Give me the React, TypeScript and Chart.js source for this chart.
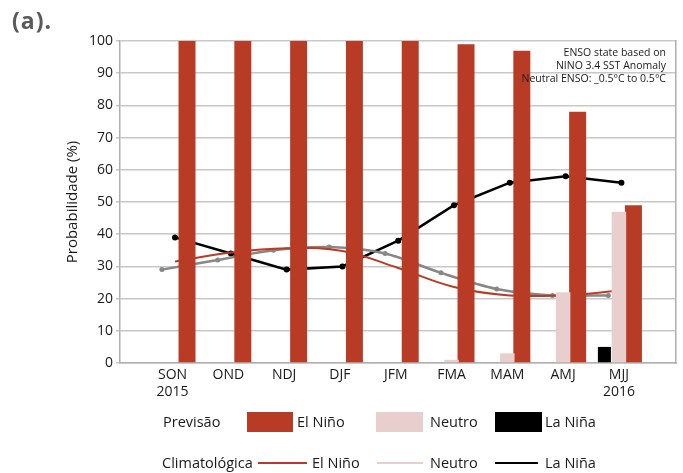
import React, { useEffect, useRef } from "react";
import { Chart, registerables } from "chart.js";

Chart.register(...registerables);

// ---- data ----
const categories = ["SON", "OND", "NDJ", "DJF", "JFM", "FMA", "MAM", "AMJ", "MJJ"];
const tickYears = ["2015", "", "", "", "", "", "", "", "2016"];
const yTickValues = [0, 10, 20, 30, 40, 50, 60, 70, 80, 90, 100];

// Previsão (bars)
const elNinoForecast = [100, 100, 100, 100, 100, 99, 97, 78, 49];
const neutroForecast = [0, 0, 0, 0, 0, 1, 3, 22, 47];
const laNinaForecast = [0, 0, 0, 0, 0, 0, 0, 0, 5];

// Climatológica (lines)
const elNinoClim = [31.5, 34.3, 35.6, 34.8, 29.5, 23.6, 21, 21.1, 22.5];
const neutroClim = [29, 32, 35, 36, 34, 28, 23, 21, 21];
const laNinaClim = [39, 34, 29, 30, 38, 49, 56, 58, 56];

// ---- styles ----
const RED = "#b83c25";
const PINK = "#e8cfce";
const BLACK = "#000000";
const GRAY = "#878787";
const GRID = "#c8c8c8";
const AXIS = "#b0b0b0";
const TEXT = "#1a1a1a";
const FONT = "'Open Sans', sans-serif";

const LINE_SHIFT_BLACK = 0.045;
const LINE_SHIFT_GRAY = -0.19;

export default function App() {
  const ref = useRef<HTMLCanvasElement>(null);

  useEffect(() => {
    if (!ref.current) return;
    Chart.defaults.font.family = FONT;
    Chart.defaults.color = TEXT;
    const idx = categories.map((_, i) => i);
    const chart = new Chart(ref.current, {
      type: "bar",
      data: {
        labels: idx,
        datasets: [
          {
            type: "bar",
            label: "La Niña",
            data: laNinaForecast,
            backgroundColor: BLACK,
            barPercentage: 0.9,
            order: 0,
          },
          {
            type: "bar",
            label: "Neutro",
            data: neutroForecast,
            backgroundColor: PINK,
            barPercentage: 1.0,
            order: 0,
          },
          {
            type: "bar",
            label: "El Niño",
            data: elNinoForecast,
            backgroundColor: RED,
            barPercentage: 1.17,
            order: 0,
          },
          {
            type: "line",
            label: "El Niño (clim.)",
            data: elNinoClim.map((v, i) => ({ x: i + LINE_SHIFT_BLACK, y: v })),
            borderColor: RED,
            borderWidth: 2,
            pointRadius: 0,
            tension: 0.4,
            order: 1,
          },
          {
            type: "line",
            label: "Neutro (clim.)",
            data: neutroClim.map((v, i) => ({ x: i + LINE_SHIFT_GRAY, y: v })),
            borderColor: GRAY,
            backgroundColor: GRAY,
            borderWidth: 2.5,
            pointRadius: 2.5,
            pointBorderWidth: 0,
            tension: 0.3,
            order: 1,
          },
          {
            type: "line",
            label: "La Niña (clim.)",
            data: laNinaClim.map((v, i) => ({ x: i + LINE_SHIFT_BLACK, y: v })),
            borderColor: BLACK,
            backgroundColor: BLACK,
            borderWidth: 2.5,
            pointRadius: 3,
            pointBorderWidth: 0,
            tension: 0,
            order: 1,
          },
        ],
      },
      options: {
        responsive: false,
        animation: false,
        devicePixelRatio: 1,
        layout: { padding: { left: 0, right: 7, top: 41, bottom: 0 } },
        datasets: {
          bar: { categoryPercentage: 0.78, borderWidth: 0 },
        },
        plugins: {
          legend: { display: false },
          tooltip: { enabled: false },
          title: { display: false },
        },
        scales: {
          x: {
            type: "linear",
            position: "bottom",
            offset: false,
            bounds: "data",
            min: -0.941,
            max: 9.023,
            grid: { display: false, drawTicks: false, offset: false },
            border: { display: true, color: AXIS, width: 1.5 },
            afterBuildTicks: (scale: any) => {
              scale.ticks = categories.map((_, i) => ({ value: i }));
            },
            afterFit: (scale: any) => {
              scale.height = 110;
              scale.paddingLeft = 0;
              scale.paddingRight = 0;
            },
            ticks: {
              autoSkip: false,
              maxRotation: 0,
              minRotation: 0,
              padding: 3,
              color: TEXT,
              font: { size: 14, lineHeight: 1.22 },
              callback: (value: any) => {
                const i = Math.round(Number(value));
                const c = categories[i];
                const y = tickYears[i];
                return y ? [c, y] : c;
              },
            },
          },
          y: {
            type: "linear",
            position: "left",
            min: 0,
            max: 100,
            afterBuildTicks: (scale: any) => {
              scale.ticks = yTickValues.map((v) => ({ value: v }));
            },
            afterFit: (scale: any) => {
              scale.width = 120;
            },
            grid: {
              color: GRID,
              lineWidth: 1.5,
              drawTicks: true,
              tickLength: 4,
              tickColor: GRID,
            },
            border: { display: true, color: AXIS, width: 1.5 },
            ticks: {
              padding: 3,
              color: TEXT,
              font: { size: 14 },
            },
            title: {
              display: true,
              text: "Probabilidade (%)",
              color: TEXT,
              font: { size: 15, lineHeight: 1.2 },
              padding: { top: 64, bottom: 0 },
            },
          },
          y2: {
            type: "linear",
            position: "right",
            min: 0,
            max: 100,
            grid: { display: false, drawTicks: false },
            ticks: { display: false },
            border: { display: true, color: AXIS, width: 1.5 },
            afterFit: (scale: any) => {
              scale.width = 0;
            },
          },
        },
      },
    } as any);
    return () => chart.destroy();
  }, []);

  const txt = (left: number, centerY: number, content: string, size = 14.5) => (
    <div
      style={{
        position: "absolute",
        left,
        top: centerY - 10,
        height: 20,
        lineHeight: "20px",
        fontSize: size,
        whiteSpace: "nowrap",
        color: TEXT,
      }}
    >
      {content}
    </div>
  );

  const box = (left: number, width: number, color: string) => (
    <div
      style={{
        position: "absolute",
        left,
        top: 412,
        width,
        height: 20,
        background: color,
      }}
    />
  );

  const line = (left: number, width: number, color: string) => (
    <div
      style={{
        position: "absolute",
        left,
        top: 462,
        width,
        height: 2,
        background: color,
      }}
    />
  );

  return (
    <div
      style={{
        position: "fixed",
        left: 0,
        top: 0,
        width: 683,
        height: 473,
        background: "#ffffff",
        fontFamily: FONT,
        overflow: "hidden",
      }}
    >
      <canvas
        ref={ref}
        width={683}
        height={473}
        style={{ position: "absolute", left: 0, top: 0, width: 683, height: 473 }}
      />
      <div
        style={{
          position: "absolute",
          left: 12,
          top: 7,
          fontSize: 23,
          lineHeight: "26px",
          fontWeight: 700,
          color: "#5a5a5a",
          letterSpacing: 1,
        }}
      >
        (a).
      </div>
      <div
        style={{
          position: "absolute",
          right: 17,
          top: 46,
          fontSize: 10.5,
          lineHeight: "13px",
          textAlign: "right",
          color: TEXT,
          whiteSpace: "nowrap",
        }}
      >
        <div>ENSO state based on</div>
        <div>NINO 3.4 SST Anomaly</div>
        <div>Neutral ENSO: _0.5°C to 0.5°C</div>
      </div>

      {txt(163, 422, "Previsão")}
      {box(247, 46, RED)}
      {txt(297, 422, "El Niño")}
      {box(376, 47, PINK)}
      {txt(430, 422, "Neutro")}
      {box(495, 47, BLACK)}
      {txt(545, 422, "La Niña")}

      {txt(162, 463, "Climatológica")}
      {line(258, 49, RED)}
      {txt(312, 463, "El Niño")}
      {line(377, 46, PINK)}
      {txt(430, 463, "Neutro")}
      {line(495, 43, BLACK)}
      {txt(545, 463, "La Niña")}
    </div>
  );
}
